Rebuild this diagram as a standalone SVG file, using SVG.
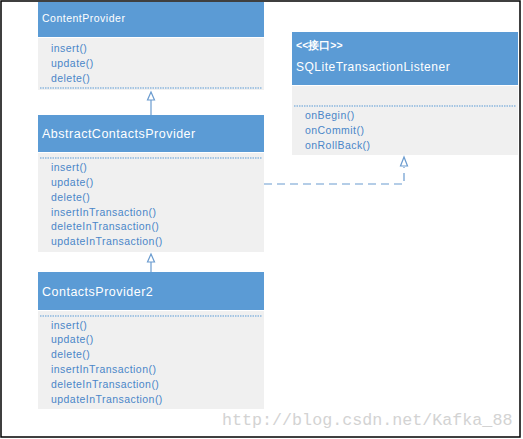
<svg xmlns="http://www.w3.org/2000/svg" width="523" height="439" viewBox="0 0 523 439">
<style>
.hdr{fill:#5b9bd5}
.body{fill:#f0f0f0}
.title{font-family:"Liberation Sans",Arial,sans-serif;fill:#ffffff;letter-spacing:0.5px}
.m{font-family:"Liberation Sans",Arial,sans-serif;font-size:10.5px;fill:#4a86c8;letter-spacing:0.45px}
.sep{stroke:#5b9bd5;stroke-width:1;stroke-dasharray:1.5 1}
.conn{stroke:#6a9bcf;stroke-width:1.2;fill:none}
.tri{fill:#ffffff;stroke:#6a9bcf;stroke-width:1.2}
</style>
<rect x="0" y="0" width="523" height="439" fill="#ffffff"/>
<rect x="1" y="1" width="519" height="436" fill="none" stroke="#000" stroke-width="1.5"/>
<g id="connectors">
  <line class="conn" x1="151" y1="100" x2="151" y2="115"/>
  <polygon class="tri" points="151,92 147.5,100 154.5,100"/>
  <line class="conn" x1="151" y1="262" x2="151" y2="272"/>
  <polygon class="tri" points="151,254 147.5,262 154.5,262"/>
  <path class="conn" d="M264,184 H404 V167" stroke-dasharray="8 5"/>
  <polygon class="tri" points="404,157 400.5,166 407.5,166"/>
</g>
<g id="ContentProvider">
  <rect class="hdr" x="38" y="2" width="226" height="35"/>
  <rect class="body" x="38" y="38" width="226" height="52"/>
  <line class="sep" x1="40" y1="88" x2="262" y2="88"/>
  <text class="title" x="42" y="22" font-size="10.5">ContentProvider</text>
  <text class="m" x="51" y="52">insert()</text>
  <text class="m" x="51" y="67">update()</text>
  <text class="m" x="51" y="82">delete()</text>
</g>
<g id="AbstractContactsProvider">
  <rect class="hdr" x="38" y="115" width="226" height="37"/>
  <rect class="body" x="38" y="153" width="226" height="99"/>
  <line class="sep" x1="40" y1="158" x2="262" y2="158"/>
  <text class="title" x="42" y="138" font-size="12.5">AbstractContactsProvider</text>
  <text class="m" x="51" y="171">insert()</text>
  <text class="m" x="51" y="186">update()</text>
  <text class="m" x="51" y="201">delete()</text>
  <text class="m" x="51" y="216">insertInTransaction()</text>
  <text class="m" x="51" y="230">deleteInTransaction()</text>
  <text class="m" x="51" y="245">updateInTransaction()</text>
</g>
<g id="ContactsProvider2">
  <rect class="hdr" x="38" y="272" width="226" height="38"/>
  <rect class="body" x="38" y="311" width="226" height="98"/>
  <line class="sep" x1="40" y1="316" x2="262" y2="316"/>
  <text class="title" x="42" y="296" font-size="12.5">ContactsProvider2</text>
  <text class="m" x="51" y="329">insert()</text>
  <text class="m" x="51" y="343">update()</text>
  <text class="m" x="51" y="358">delete()</text>
  <text class="m" x="51" y="373">insertInTransaction()</text>
  <text class="m" x="51" y="388">deleteInTransaction()</text>
  <text class="m" x="51" y="403">updateInTransaction()</text>
</g>
<g id="SQLiteTransactionListener">
  <rect class="hdr" x="292" y="32" width="226" height="53"/>
  <rect class="body" x="292" y="86" width="226" height="69"/>
  <line class="sep" x1="294" y1="106" x2="516" y2="106"/>
  <text class="title" x="296" y="49" font-size="10.5" font-weight="bold" font-family="'Liberation Sans','Noto Sans CJK SC',sans-serif" style="letter-spacing:0">&lt;&lt;接口&gt;&gt;</text>
  <text class="title" x="296" y="71" font-size="12">SQLiteTransactionListener</text>
  <text class="m" x="305" y="119">onBegin()</text>
  <text class="m" x="305" y="134">onCommit()</text>
  <text class="m" x="305" y="149">onRollBack()</text>
</g>
<text x="222" y="425" font-family="'Liberation Mono',monospace" font-size="16.7" fill="#d3d3d3">http://blog.csdn.net/Kafka_88</text>
</svg>
